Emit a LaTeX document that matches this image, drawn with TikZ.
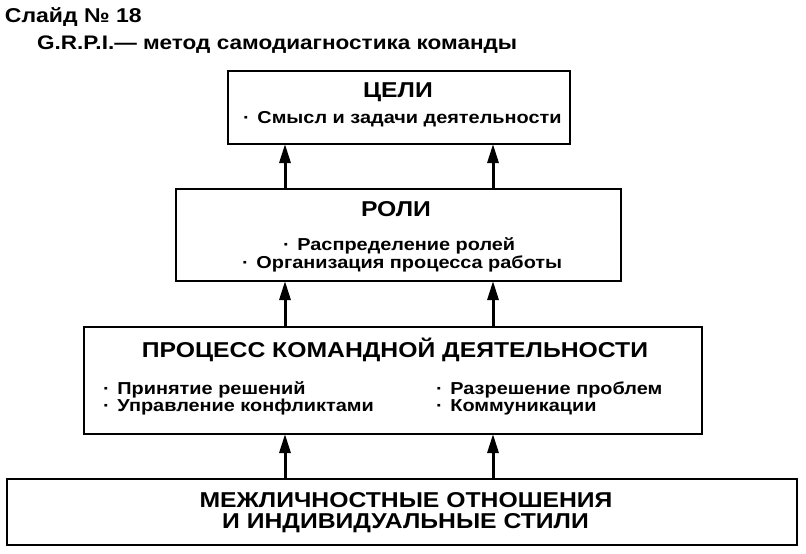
\documentclass[tikz,border=0pt]{standalone}
\usepackage{fontspec}
\setmainfont{Liberation Sans}[FakeStretch=1.15]
\usetikzlibrary{arrows.meta}
\tikzset{
  box/.style={draw, line width=2.6pt, rectangle, inner sep=0pt, outer sep=0pt},
  arr/.style={line width=3pt, -{Triangle[width=11pt,length=19pt]}},
  txt/.style={inner sep=0pt, outer sep=0pt},
  topfont/.style={font=\bfseries\fontsize{20}{22}\selectfont},
  subfont/.style={font=\bfseries\fontsize{19.6}{22}\selectfont},
  hfont/.style={font=\bfseries\fontsize{21.5}{24}\selectfont},
  sfont/.style={font=\bfseries\fontsize{17.3}{19}\selectfont}
}
\newcommand{\bul}{·\hspace{0.45em}}
\begin{document}
\begin{tikzpicture}[x=1pt,y=-1pt]
\useasboundingbox[fill=white] (0,0) rectangle (806,554);
% header
\node[txt,topfont,anchor=base west] (hdr) at (5,22) {Слайд № 18};
\node[txt,subfont,anchor=base west] (sub) at (37,49) {G.R.P.I.— метод самодиагностика команды};
% goals
\node[box, minimum width=342, minimum height=73] (goal) at (399,107.5) {};
\node[txt,hfont,anchor=base] (goalT) at (398,97) {ЦЕЛИ};
\node[txt,sfont,anchor=base west] (goalI) at (243,123) {\bul Смысл и задачи деятельности};
% roles
\node[box, minimum width=445, minimum height=92] (roles) at (398.5,235) {};
\node[txt,hfont,anchor=base] (rolesT) at (396,216) {РОЛИ};
\node[txt,sfont,anchor=base west] (r1) at (283,250) {\bul Распределение ролей};
\node[txt,sfont,anchor=base west] (r2) at (242,268) {\bul Организация процесса работы};
% process
\node[box, minimum width=618, minimum height=107] (proc) at (393,380.5) {};
\node[txt,hfont,anchor=base] (procT) at (395,357) {ПРОЦЕСС КОМАНДНОЙ ДЕЯТЕЛЬНОСТИ};
\node[txt,sfont,anchor=base west] (p1) at (103,394) {\bul Принятие решений};
\node[txt,sfont,anchor=base west] (p2) at (103,411) {\bul Управление конфликтами};
\node[txt,sfont,anchor=base west] (p3) at (436,394) {\bul Разрешение проблем};
\node[txt,sfont,anchor=base west] (p4) at (436,411) {\bul Коммуникации};
% base
\node[box, minimum width=790, minimum height=66] (base) at (402,512) {};
\node[txt,hfont,anchor=base] (b1) at (406,507) {МЕЖЛИЧНОСТНЫЕ ОТНОШЕНИЯ};
\node[txt,hfont,anchor=base] (b2) at (405.5,528) {И ИНДИВИДУАЛЬНЫЕ СТИЛИ};
% arrows
\coordinate (cL) at (285,0);
\coordinate (cR) at (493,0);
\draw[arr] (base.north -| cL) -- (proc.south -| cL);
\draw[arr] (base.north -| cR) -- (proc.south -| cR);
\draw[arr] (proc.north -| cL) -- (roles.south -| cL);
\draw[arr] (proc.north -| cR) -- (roles.south -| cR);
\draw[arr] (roles.north -| cL) -- (goal.south -| cL);
\draw[arr] (roles.north -| cR) -- (goal.south -| cR);
\end{tikzpicture}
\end{document}
